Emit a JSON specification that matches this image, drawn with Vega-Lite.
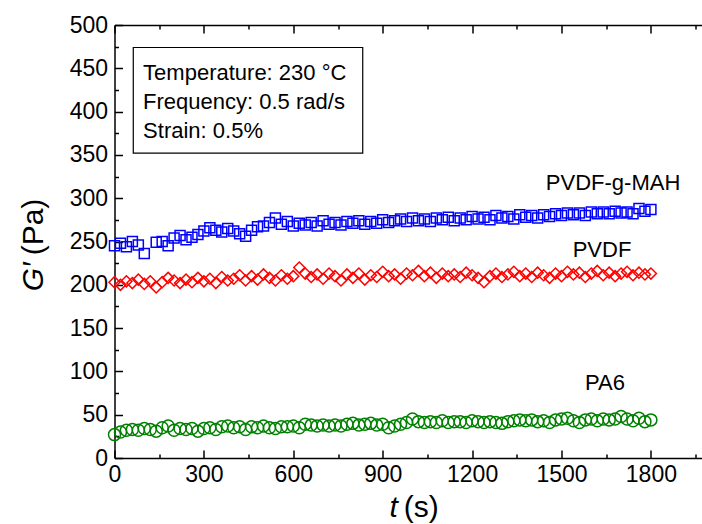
{
  "$schema": "https://vega.github.io/schema/vega-lite/v6.json",
  "width": 596,
  "height": 433,
  "autosize": "none",
  "padding": {"left": 114.5, "top": 25, "right": 0, "bottom": 66},
  "config": {
    "view": {"stroke": null},
    "axis": {
      "grid": false,
      "domainColor": "black",
      "domainWidth": 1.5,
      "tickColor": "black",
      "tickWidth": 1.5,
      "labelColor": "black",
      "labelFont": "Liberation Sans",
      "labelFontSize": 23,
      "labelOverlap": false,
      "labelFlush": false,
      "format": "d",
      "title": null
    }
  },
  "resolve": {"axis": {"x": "independent", "y": "independent"}},
  "layer": [
    {
      "data": {"values": [{"x1": 63, "x2": 833, "y1": 474, "y2": 352}]},
      "mark": {"type": "rect", "fill": null, "stroke": "black", "strokeWidth": 1.2},
      "encoding": {
        "x": {"field": "x1", "type": "quantitative", "scale": {"domain": [0, 2000], "nice": false, "zero": false},
              "axis": {"orient": "top", "values": [0, 300, 600, 900, 1200, 1500, 1800], "tickSize": -8, "labels": false}},
        "x2": {"field": "x2"},
        "y": {"field": "y1", "type": "quantitative", "scale": {"domain": [0, 500], "nice": false, "zero": false}, "axis": null},
        "y2": {"field": "y2"}
      }
    },
    {
      "data": {"values": [
        {"t": 96, "g": 437, "txt": "Temperature: 230 °C"},
        {"t": 96, "g": 403, "txt": "Frequency: 0.5 rad/s"},
        {"t": 96, "g": 369, "txt": "Strain: 0.5%"}
      ]},
      "mark": {"type": "text", "align": "left", "baseline": "alphabetic", "font": "Liberation Sans", "fontSize": 22, "color": "black"},
      "encoding": {
        "x": {"field": "t", "type": "quantitative", "scale": {"domain": [0, 2000], "nice": false, "zero": false},
              "axis": {"orient": "bottom", "values": [150, 450, 750, 1050, 1350, 1650, 1950], "tickSize": -4, "labels": false, "domain": false}},
        "y": {"field": "g", "type": "quantitative", "scale": {"domain": [0, 500], "nice": false, "zero": false},
              "axis": {"orient": "left", "values": [25, 75, 125, 175, 225, 275, 325, 375, 425, 475], "tickSize": -4, "labels": false, "domain": false}},
        "text": {"field": "txt"}
      }
    },
    {
      "data": {"values": [
        {"t": 1673, "g": 318, "txt": "PVDF-g-MAH"},
        {"t": 1636, "g": 240, "txt": "PVDF"},
        {"t": 1646, "g": 87, "txt": "PA6"}
      ]},
      "mark": {"type": "text", "align": "center", "baseline": "middle", "font": "Liberation Sans", "fontSize": 22, "color": "black"},
      "encoding": {
        "x": {"field": "t", "type": "quantitative", "scale": {"domain": [0, 2000], "nice": false, "zero": false},
              "axis": {"orient": "top", "values": [150, 450, 750, 1050, 1350, 1650, 1950], "tickSize": -4, "labels": false, "domain": false}},
        "y": {"field": "g", "type": "quantitative", "scale": {"domain": [0, 500], "nice": false, "zero": false}, "axis": null},
        "text": {"field": "txt"}
      }
    },
    {
      "data": {"values": [{"t": 951, "g": -68}]},
      "mark": {"type": "text", "text": "t", "align": "right", "baseline": "alphabetic", "font": "Liberation Sans", "fontSize": 30, "fontStyle": "italic", "color": "black"},
      "encoding": {
        "x": {"field": "t", "type": "quantitative", "axis": null},
        "y": {"field": "g", "type": "quantitative", "axis": null}
      }
    },
    {
      "data": {"values": [{"t": 971, "g": -68}]},
      "mark": {"type": "text", "text": "(s)", "align": "left", "baseline": "alphabetic", "font": "Liberation Sans", "fontSize": 30, "color": "black"},
      "encoding": {
        "x": {"field": "t", "type": "quantitative", "axis": null},
        "y": {"field": "g", "type": "quantitative", "axis": null}
      }
    },
    {
      "data": {"values": [{"t": -240, "g": 226}]},
      "mark": {"type": "text", "text": "G′", "angle": 270, "align": "right", "baseline": "alphabetic", "font": "Liberation Sans", "fontSize": 30, "fontStyle": "italic", "color": "black"},
      "encoding": {
        "x": {"field": "t", "type": "quantitative", "axis": null},
        "y": {"field": "g", "type": "quantitative", "axis": null}
      }
    },
    {
      "data": {"values": [{"t": -240, "g": 234}]},
      "mark": {"type": "text", "text": "(Pa)", "angle": 270, "align": "left", "baseline": "alphabetic", "font": "Liberation Sans", "fontSize": 30, "color": "black"},
      "encoding": {
        "x": {"field": "t", "type": "quantitative", "axis": null},
        "y": {"field": "g", "type": "quantitative", "axis": null}
      }
    },
    {
      "data": {"values": [
        {"t":0,"s":"PA6","g":27},{"t":20,"s":"PA6","g":30},{"t":40,"s":"PA6","g":32},{"t":60,"s":"PA6","g":33},{"t":80,"s":"PA6","g":32},
        {"t":100,"s":"PA6","g":34},{"t":120,"s":"PA6","g":33},{"t":140,"s":"PA6","g":31},{"t":160,"s":"PA6","g":35},{"t":180,"s":"PA6","g":37},
        {"t":200,"s":"PA6","g":32},{"t":220,"s":"PA6","g":34},{"t":240,"s":"PA6","g":33},{"t":260,"s":"PA6","g":34},{"t":280,"s":"PA6","g":31},
        {"t":300,"s":"PA6","g":34},{"t":320,"s":"PA6","g":35},{"t":340,"s":"PA6","g":33},{"t":360,"s":"PA6","g":36},{"t":380,"s":"PA6","g":37},
        {"t":400,"s":"PA6","g":35},{"t":420,"s":"PA6","g":36},{"t":440,"s":"PA6","g":33},{"t":460,"s":"PA6","g":36},{"t":480,"s":"PA6","g":35},
        {"t":500,"s":"PA6","g":37},{"t":520,"s":"PA6","g":35},{"t":540,"s":"PA6","g":34},{"t":560,"s":"PA6","g":36},{"t":580,"s":"PA6","g":36},
        {"t":600,"s":"PA6","g":37},{"t":620,"s":"PA6","g":35},{"t":640,"s":"PA6","g":39},{"t":660,"s":"PA6","g":38},{"t":680,"s":"PA6","g":37},
        {"t":700,"s":"PA6","g":38},{"t":720,"s":"PA6","g":37},{"t":740,"s":"PA6","g":38},{"t":760,"s":"PA6","g":37},{"t":780,"s":"PA6","g":39},
        {"t":800,"s":"PA6","g":40},{"t":820,"s":"PA6","g":38},{"t":840,"s":"PA6","g":39},{"t":860,"s":"PA6","g":40},{"t":880,"s":"PA6","g":38},
        {"t":900,"s":"PA6","g":39},{"t":920,"s":"PA6","g":35},{"t":940,"s":"PA6","g":37},{"t":960,"s":"PA6","g":39},{"t":980,"s":"PA6","g":41},
        {"t":1000,"s":"PA6","g":45},{"t":1020,"s":"PA6","g":42},{"t":1040,"s":"PA6","g":41},{"t":1060,"s":"PA6","g":42},{"t":1080,"s":"PA6","g":41},
        {"t":1100,"s":"PA6","g":43},{"t":1120,"s":"PA6","g":41},{"t":1140,"s":"PA6","g":42},{"t":1160,"s":"PA6","g":42},{"t":1180,"s":"PA6","g":41},
        {"t":1200,"s":"PA6","g":43},{"t":1220,"s":"PA6","g":42},{"t":1240,"s":"PA6","g":41},{"t":1260,"s":"PA6","g":42},{"t":1280,"s":"PA6","g":41},
        {"t":1300,"s":"PA6","g":40},{"t":1320,"s":"PA6","g":42},{"t":1340,"s":"PA6","g":43},{"t":1360,"s":"PA6","g":44},{"t":1380,"s":"PA6","g":43},
        {"t":1400,"s":"PA6","g":44},{"t":1420,"s":"PA6","g":42},{"t":1440,"s":"PA6","g":43},{"t":1460,"s":"PA6","g":41},{"t":1480,"s":"PA6","g":44},
        {"t":1500,"s":"PA6","g":45},{"t":1520,"s":"PA6","g":46},{"t":1540,"s":"PA6","g":43},{"t":1560,"s":"PA6","g":41},{"t":1580,"s":"PA6","g":44},
        {"t":1600,"s":"PA6","g":45},{"t":1620,"s":"PA6","g":43},{"t":1640,"s":"PA6","g":45},{"t":1660,"s":"PA6","g":44},{"t":1680,"s":"PA6","g":45},
        {"t":1700,"s":"PA6","g":48},{"t":1720,"s":"PA6","g":45},{"t":1740,"s":"PA6","g":43},{"t":1760,"s":"PA6","g":46},{"t":1780,"s":"PA6","g":42},
        {"t":1800,"s":"PA6","g":44},

        {"t":0,"s":"PVDF","g":203},{"t":20,"s":"PVDF","g":200},{"t":40,"s":"PVDF","g":204},{"t":60,"s":"PVDF","g":202},{"t":80,"s":"PVDF","g":206},
        {"t":100,"s":"PVDF","g":201},{"t":120,"s":"PVDF","g":204},{"t":140,"s":"PVDF","g":197},{"t":160,"s":"PVDF","g":203},{"t":180,"s":"PVDF","g":208},
        {"t":200,"s":"PVDF","g":205},{"t":220,"s":"PVDF","g":202},{"t":240,"s":"PVDF","g":206},{"t":260,"s":"PVDF","g":203},{"t":280,"s":"PVDF","g":208},
        {"t":300,"s":"PVDF","g":204},{"t":320,"s":"PVDF","g":207},{"t":340,"s":"PVDF","g":202},{"t":360,"s":"PVDF","g":209},{"t":380,"s":"PVDF","g":205},
        {"t":400,"s":"PVDF","g":207},{"t":420,"s":"PVDF","g":211},{"t":440,"s":"PVDF","g":205},{"t":460,"s":"PVDF","g":210},{"t":480,"s":"PVDF","g":206},
        {"t":500,"s":"PVDF","g":212},{"t":520,"s":"PVDF","g":208},{"t":540,"s":"PVDF","g":205},{"t":560,"s":"PVDF","g":211},{"t":580,"s":"PVDF","g":207},
        {"t":600,"s":"PVDF","g":210},{"t":620,"s":"PVDF","g":220},{"t":640,"s":"PVDF","g":213},{"t":660,"s":"PVDF","g":209},{"t":680,"s":"PVDF","g":212},
        {"t":700,"s":"PVDF","g":207},{"t":720,"s":"PVDF","g":213},{"t":740,"s":"PVDF","g":210},{"t":760,"s":"PVDF","g":205},{"t":780,"s":"PVDF","g":212},
        {"t":800,"s":"PVDF","g":208},{"t":820,"s":"PVDF","g":213},{"t":840,"s":"PVDF","g":206},{"t":860,"s":"PVDF","g":211},{"t":880,"s":"PVDF","g":209},
        {"t":900,"s":"PVDF","g":215},{"t":920,"s":"PVDF","g":210},{"t":940,"s":"PVDF","g":212},{"t":960,"s":"PVDF","g":207},{"t":980,"s":"PVDF","g":213},
        {"t":1000,"s":"PVDF","g":211},{"t":1020,"s":"PVDF","g":216},{"t":1040,"s":"PVDF","g":210},{"t":1060,"s":"PVDF","g":214},{"t":1080,"s":"PVDF","g":208},
        {"t":1100,"s":"PVDF","g":213},{"t":1120,"s":"PVDF","g":210},{"t":1140,"s":"PVDF","g":212},{"t":1160,"s":"PVDF","g":209},{"t":1180,"s":"PVDF","g":214},
        {"t":1200,"s":"PVDF","g":211},{"t":1220,"s":"PVDF","g":208},{"t":1240,"s":"PVDF","g":203},{"t":1260,"s":"PVDF","g":210},{"t":1280,"s":"PVDF","g":213},
        {"t":1300,"s":"PVDF","g":209},{"t":1320,"s":"PVDF","g":212},{"t":1340,"s":"PVDF","g":215},{"t":1360,"s":"PVDF","g":210},{"t":1380,"s":"PVDF","g":213},
        {"t":1400,"s":"PVDF","g":209},{"t":1420,"s":"PVDF","g":214},{"t":1440,"s":"PVDF","g":211},{"t":1460,"s":"PVDF","g":208},{"t":1480,"s":"PVDF","g":213},
        {"t":1500,"s":"PVDF","g":210},{"t":1520,"s":"PVDF","g":215},{"t":1540,"s":"PVDF","g":212},{"t":1560,"s":"PVDF","g":214},{"t":1580,"s":"PVDF","g":209},
        {"t":1600,"s":"PVDF","g":213},{"t":1620,"s":"PVDF","g":216},{"t":1640,"s":"PVDF","g":211},{"t":1660,"s":"PVDF","g":214},{"t":1680,"s":"PVDF","g":210},
        {"t":1700,"s":"PVDF","g":213},{"t":1720,"s":"PVDF","g":215},{"t":1740,"s":"PVDF","g":211},{"t":1760,"s":"PVDF","g":214},{"t":1780,"s":"PVDF","g":212},
        {"t":1800,"s":"PVDF","g":213},

        {"t":0,"s":"PVDF-g-MAH","g":245},{"t":20,"s":"PVDF-g-MAH","g":248},{"t":40,"s":"PVDF-g-MAH","g":244},{"t":60,"s":"PVDF-g-MAH","g":250},{"t":80,"s":"PVDF-g-MAH","g":246},
        {"t":100,"s":"PVDF-g-MAH","g":236},{"t":140,"s":"PVDF-g-MAH","g":249},{"t":160,"s":"PVDF-g-MAH","g":250},{"t":180,"s":"PVDF-g-MAH","g":245},
        {"t":200,"s":"PVDF-g-MAH","g":254},{"t":220,"s":"PVDF-g-MAH","g":257},{"t":240,"s":"PVDF-g-MAH","g":252},{"t":260,"s":"PVDF-g-MAH","g":255},{"t":280,"s":"PVDF-g-MAH","g":258},
        {"t":300,"s":"PVDF-g-MAH","g":262},{"t":320,"s":"PVDF-g-MAH","g":266},{"t":340,"s":"PVDF-g-MAH","g":263},{"t":360,"s":"PVDF-g-MAH","g":261},{"t":380,"s":"PVDF-g-MAH","g":265},
        {"t":400,"s":"PVDF-g-MAH","g":262},{"t":420,"s":"PVDF-g-MAH","g":259},{"t":440,"s":"PVDF-g-MAH","g":256},{"t":460,"s":"PVDF-g-MAH","g":263},{"t":480,"s":"PVDF-g-MAH","g":267},
        {"t":500,"s":"PVDF-g-MAH","g":268},{"t":520,"s":"PVDF-g-MAH","g":272},{"t":540,"s":"PVDF-g-MAH","g":277},{"t":560,"s":"PVDF-g-MAH","g":270},{"t":580,"s":"PVDF-g-MAH","g":273},
        {"t":600,"s":"PVDF-g-MAH","g":268},{"t":620,"s":"PVDF-g-MAH","g":271},{"t":640,"s":"PVDF-g-MAH","g":269},{"t":660,"s":"PVDF-g-MAH","g":272},{"t":680,"s":"PVDF-g-MAH","g":268},
        {"t":700,"s":"PVDF-g-MAH","g":274},{"t":720,"s":"PVDF-g-MAH","g":270},{"t":740,"s":"PVDF-g-MAH","g":272},{"t":760,"s":"PVDF-g-MAH","g":269},{"t":780,"s":"PVDF-g-MAH","g":273},
        {"t":800,"s":"PVDF-g-MAH","g":271},{"t":820,"s":"PVDF-g-MAH","g":274},{"t":840,"s":"PVDF-g-MAH","g":270},{"t":860,"s":"PVDF-g-MAH","g":273},{"t":880,"s":"PVDF-g-MAH","g":271},
        {"t":900,"s":"PVDF-g-MAH","g":275},{"t":920,"s":"PVDF-g-MAH","g":272},{"t":940,"s":"PVDF-g-MAH","g":274},{"t":960,"s":"PVDF-g-MAH","g":276},{"t":980,"s":"PVDF-g-MAH","g":273},
        {"t":1000,"s":"PVDF-g-MAH","g":277},{"t":1020,"s":"PVDF-g-MAH","g":274},{"t":1040,"s":"PVDF-g-MAH","g":276},{"t":1060,"s":"PVDF-g-MAH","g":273},{"t":1080,"s":"PVDF-g-MAH","g":277},
        {"t":1100,"s":"PVDF-g-MAH","g":275},{"t":1120,"s":"PVDF-g-MAH","g":278},{"t":1140,"s":"PVDF-g-MAH","g":274},{"t":1160,"s":"PVDF-g-MAH","g":277},{"t":1180,"s":"PVDF-g-MAH","g":275},
        {"t":1200,"s":"PVDF-g-MAH","g":279},{"t":1220,"s":"PVDF-g-MAH","g":276},{"t":1240,"s":"PVDF-g-MAH","g":278},{"t":1260,"s":"PVDF-g-MAH","g":275},{"t":1280,"s":"PVDF-g-MAH","g":280},
        {"t":1300,"s":"PVDF-g-MAH","g":277},{"t":1320,"s":"PVDF-g-MAH","g":279},{"t":1340,"s":"PVDF-g-MAH","g":276},{"t":1360,"s":"PVDF-g-MAH","g":281},{"t":1380,"s":"PVDF-g-MAH","g":278},
        {"t":1400,"s":"PVDF-g-MAH","g":280},{"t":1420,"s":"PVDF-g-MAH","g":277},{"t":1440,"s":"PVDF-g-MAH","g":281},{"t":1460,"s":"PVDF-g-MAH","g":279},{"t":1480,"s":"PVDF-g-MAH","g":282},
        {"t":1500,"s":"PVDF-g-MAH","g":280},{"t":1520,"s":"PVDF-g-MAH","g":283},{"t":1540,"s":"PVDF-g-MAH","g":281},{"t":1560,"s":"PVDF-g-MAH","g":283},{"t":1580,"s":"PVDF-g-MAH","g":280},
        {"t":1600,"s":"PVDF-g-MAH","g":284},{"t":1620,"s":"PVDF-g-MAH","g":282},{"t":1640,"s":"PVDF-g-MAH","g":284},{"t":1660,"s":"PVDF-g-MAH","g":282},{"t":1680,"s":"PVDF-g-MAH","g":285},
        {"t":1700,"s":"PVDF-g-MAH","g":283},{"t":1720,"s":"PVDF-g-MAH","g":284},{"t":1740,"s":"PVDF-g-MAH","g":282},{"t":1760,"s":"PVDF-g-MAH","g":288},{"t":1780,"s":"PVDF-g-MAH","g":285},
        {"t":1800,"s":"PVDF-g-MAH","g":287}
      ]},
      "mark": {"type": "point", "filled": false, "strokeWidth": 1.5, "opacity": 1},
      "encoding": {
        "x": {"field": "t", "type": "quantitative", "scale": {"domain": [0, 2000], "nice": false, "zero": false},
              "axis": {"orient": "bottom", "values": [0, 300, 600, 900, 1200, 1500, 1800], "tickSize": -8, "labelPadding": 13}},
        "y": {"field": "g", "type": "quantitative", "scale": {"domain": [0, 500], "nice": false, "zero": false},
              "axis": {"orient": "left", "values": [0, 50, 100, 150, 200, 250, 300, 350, 400, 450, 500], "tickSize": -8, "labelPadding": 15}},
        "color": {"field": "s", "type": "nominal", "legend": null,
                  "scale": {"domain": ["PVDF-g-MAH", "PVDF", "PA6"], "range": ["#0000ff", "#ff0000", "#008000"]}},
        "shape": {"field": "s", "type": "nominal", "legend": null,
                  "scale": {"domain": ["PVDF-g-MAH", "PVDF", "PA6"], "range": ["square", "diamond", "circle"]}},
        "size": {"field": "s", "type": "nominal", "legend": null,
                 "scale": {"domain": ["PVDF-g-MAH", "PVDF", "PA6"], "range": [100, 144, 70]}}
      }
    }
  ]
}
